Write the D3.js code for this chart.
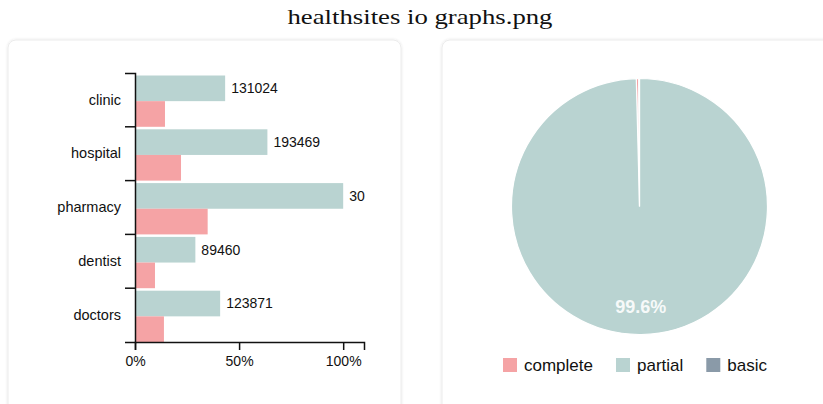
<!DOCTYPE html>
<html>
<head>
<meta charset="utf-8">
<script src="https://cdn.jsdelivr.net/npm/d3@7"></script>
<style>
  html, body { margin: 0; padding: 0; background: #fff; }
  svg { display: block; }
</style>
</head>
<body>
<div id="chart"></div>
<script>
// --- data ---
const categories = ['clinic', 'hospital', 'pharmacy', 'dentist', 'doctors'];
const partialShare = [0.433, 0.636, 1.0, 0.29, 0.409];
const completeShare = [0.144, 0.221, 0.349, 0.096, 0.139];
const barLabels = ['131024', '193469', '30', '89460', '123871'];
const xTicks = [0, 0.5, 1];

const pieKeys = ['complete', 'partial', 'basic'];
const pieValues = [0.3, 99.6, 0.1];
const pieLabel = '99.6%';

const COLORS = { complete: '#f5a3a5', partial: '#b9d3d1', basic: '#8a9aa8' };
const SANS = "'Liberation Sans', Arial, Helvetica, sans-serif";

const width = 823, height = 404;
const svg = d3.select('#chart').append('svg').attr('width', width).attr('height', height);

svg.append('rect').attr('width', width).attr('height', height).attr('fill', '#fff');

// title
svg.append('text')
    .attr('x', 420).attr('y', 24)
    .attr('text-anchor', 'middle')
    .attr('font-family', "'Liberation Serif', 'DejaVu Serif', serif")
    .attr('font-size', 21.5)
    .attr('textLength', 265)
    .attr('lengthAdjust', 'spacingAndGlyphs')
    .attr('fill', '#111')
    .text('healthsites io graphs.png');

// cards
const defs = svg.append('defs');
const shadow = defs.append('filter').attr('id', 'soft').attr('x', '-5%').attr('y', '-5%').attr('width', '110%').attr('height', '110%');
shadow.append('feGaussianBlur').attr('in', 'SourceAlpha').attr('stdDeviation', 1.5);
shadow.append('feComponentTransfer').append('feFuncA').attr('type', 'linear').attr('slope', 0.12);
const merge = shadow.append('feMerge');
merge.append('feMergeNode');
merge.append('feMergeNode').attr('in', 'SourceGraphic');

[[8, 393], [442, 420]].forEach(([cx, cw]) => {
    svg.append('rect')
        .attr('x', cx).attr('y', 40).attr('width', cw).attr('height', 380)
        .attr('rx', 8)
        .attr('fill', '#fff').attr('stroke', '#ececec').attr('stroke-width', 1)
        .attr('filter', 'url(#soft)');
});

// ---------- bar chart ----------
const x = d3.scaleLinear().domain([0, 1.1]).range([135, 364]);
const y = d3.scaleBand().domain(categories).range([73, 342]);
const sub = d3.scaleBand().domain(['partial', 'complete']).range([2.5, y.bandwidth()]);

const bars = svg.append('g');
categories.forEach((cat, i) => {
    const rows = [['partial', partialShare[i]], ['complete', completeShare[i]]];
    rows.forEach(([key, v]) => {
        bars.append('rect')
            .attr('x', x(0)).attr('y', y(cat) + sub(key))
            .attr('width', x(v) - x(0)).attr('height', sub.bandwidth())
            .attr('fill', COLORS[key]);
    });
    bars.append('text')
        .attr('x', x(partialShare[i]) + 6)
        .attr('y', y(cat) + sub('partial') + sub.bandwidth() / 2)
        .attr('dy', '0.35em')
        .attr('font-family', SANS).attr('font-size', 14)
        .attr('fill', '#111')
        .text(barLabels[i]);
});

const yAxis = svg.append('g')
    .attr('transform', `translate(${x(0)},0)`)
    .call(d3.axisLeft(y).tickSize(0).tickSizeOuter(10).tickPadding(14));
yAxis.selectAll('.tick text').attr('font-family', SANS).attr('font-size', 14.5).attr('fill', '#111');
// ticks sit on the band boundaries, not the centres
categories.slice(1).forEach(cat => {
    yAxis.append('line')
        .attr('x1', -10).attr('x2', 0)
        .attr('y1', y(cat)).attr('y2', y(cat))
        .attr('stroke', '#111').attr('stroke-width', 1.5);
});
yAxis.select('.domain').attr('stroke', '#111').attr('stroke-width', 1.5);

const xAxis = svg.append('g')
    .attr('transform', `translate(0,${y.range()[1]})`)
    .call(d3.axisBottom(x).tickValues(xTicks).tickFormat(d3.format('.0%')).tickSize(8).tickSizeOuter(8).tickPadding(6));
xAxis.selectAll('.tick text').attr('font-family', SANS).attr('font-size', 14).attr('fill', '#111');
xAxis.selectAll('.tick line').attr('stroke', '#111').attr('stroke-width', 1.5);
xAxis.select('.domain').attr('stroke', '#111').attr('stroke-width', 1.5);

// ---------- pie ----------
const cx = 639.5, cy = 206.5, r = 128;
const pieData = pieKeys.map((k, i) => ({ key: k, value: pieValues[i] }));
const arcs = d3.pie().value(d => d.value)(pieData);
const arc = d3.arc().innerRadius(0).outerRadius(r);
const labelArc = d3.arc().innerRadius(r * 0.78).outerRadius(r * 0.78);

const pg = svg.append('g').attr('transform', `translate(${cx},${cy})`);
pg.selectAll('path')
    .data(arcs)
    .join('path')
    .attr('d', arc)
    .attr('fill', d => COLORS[d.data.key])
    .attr('stroke', '#fff').attr('stroke-width', 1.2);

const big = arcs.find(d => d.data.key === 'partial');
pg.append('text')
    .attr('transform', `translate(${labelArc.centroid(big)})`)
    .attr('text-anchor', 'middle').attr('dy', '0.35em')
    .attr('font-family', SANS).attr('font-size', 18).attr('font-weight', 'bold')
    .attr('fill', '#fff').attr('fill-opacity', 0.9)
    .text(pieLabel);

// legend
const legend = svg.append('g').attr('transform', 'translate(503,358)');
let lx = 0;
pieKeys.forEach(k => {
    const item = legend.append('g').attr('transform', `translate(${lx},0)`);
    item.append('rect').attr('width', 14).attr('height', 14).attr('fill', COLORS[k]);
    const t = item.append('text')
        .attr('x', 21).attr('y', 7).attr('dy', '0.35em')
        .attr('font-family', SANS).attr('font-size', 17)
        .attr('fill', '#111')
        .text(k);
    lx += 21 + t.node().getComputedTextLength() + 23;
});
</script>
</body>
</html>
